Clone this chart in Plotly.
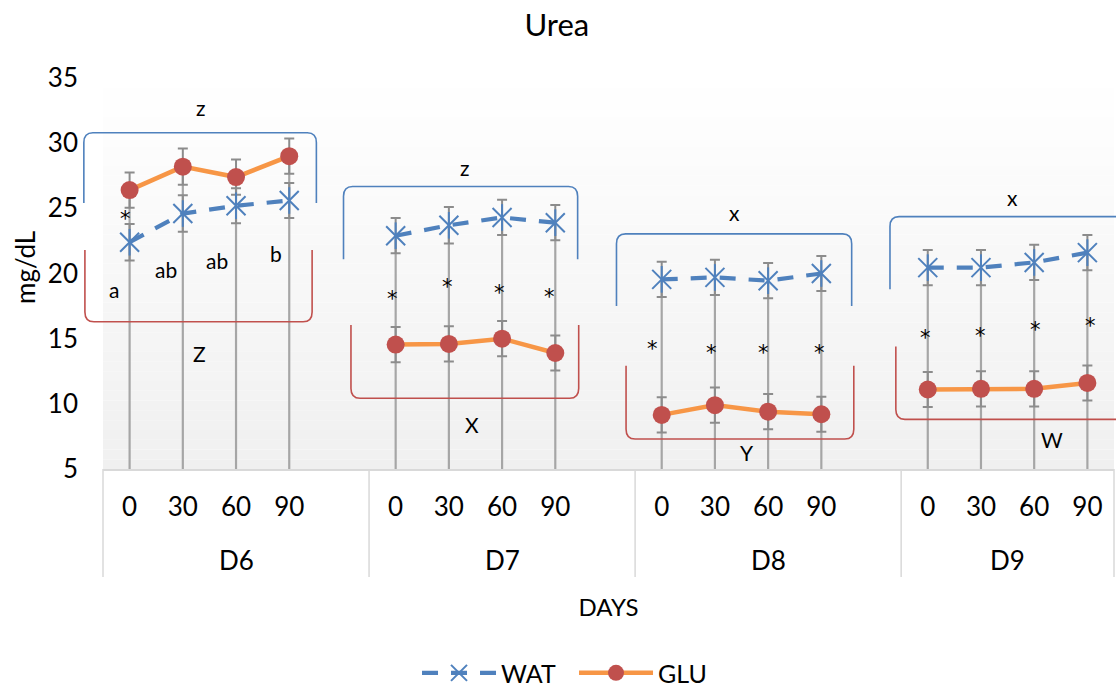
import plotly.graph_objects as go

# ---------------- data ----------------
days = ["D6", "D7", "D8", "D9"]
times = ["0", "30", "60", "90"]

wat = [22.4, 24.6, 25.2, 25.6,
       22.9, 23.7, 24.3, 23.9,
       19.55, 19.7, 19.45, 20.0,
       20.45, 20.45, 20.85, 21.6]
glu = [26.4, 28.2, 27.4, 29.0,
       14.55, 14.6, 15.0, 13.9,
       9.15, 9.9, 9.4, 9.2,
       11.1, 11.15, 11.15, 11.6]
wat_err = [1.4, 1.4, 1.35, 1.35,
           1.35, 1.4, 1.35, 1.35,
           1.35, 1.35, 1.35, 1.35,
           1.35, 1.35, 1.35, 1.35]
glu_err = [1.35, 1.4, 1.35, 1.35,
           1.35, 1.35, 1.35, 1.35,
           1.35, 1.35, 1.35, 1.35,
           1.35, 1.35, 1.35, 1.35]

# significance letters (labels only)
wat_letters = ["z", "z", "x", "x"]
glu_letters = ["Z", "X", "Y", "W"]
d6_letters = ["a", "ab", "ab", "b"]

# ---------------- layout constants ----------------
SLOTS_PER_DAY = 5
XMIN, XMAX = -0.5, 18.5
YMIN, YMAX = 5, 35
FONT = "Lato"
BLUE = "#4f81bd"
ORANGE = "#f79646"
RED = "#c0504d"

xs = [SLOTS_PER_DAY * g + t for g in range(len(days)) for t in range(len(times))]
ticktext = [times[t] for g in range(len(days)) for t in range(len(times))]


def xp(x):
    return (x - XMIN) / (XMAX - XMIN)


def yp(y):
    return (y - YMIN) / (YMAX - YMIN)


fig = go.Figure()

# drop lines (from highest point to axis)
dl_x, dl_y = [], []
for x, a, b in zip(xs, wat, glu):
    dl_x += [x, x, None]
    dl_y += [max(a, b), YMIN, None]
fig.add_trace(go.Scatter(x=dl_x, y=dl_y, mode="lines", showlegend=False,
                         line=dict(color="#a6a6a6", width=2.2), hoverinfo="skip"))

# error bars (under markers)
for vals, errs in ((wat, wat_err), (glu, glu_err)):
    fig.add_trace(go.Scatter(
        x=xs, y=vals, mode="markers", showlegend=False, hoverinfo="skip",
        marker=dict(size=1, color="rgba(0,0,0,0)"),
        error_y=dict(type="data", array=errs, color="#8c8c8c", thickness=2, width=5)))

# series
for g in range(len(days)):
    seg = slice(4 * g, 4 * g + 4)
    fig.add_trace(go.Scatter(
        x=xs[seg], y=wat[seg], mode="lines+markers", name="WAT",
        legendgroup="WAT", showlegend=(g == 0),
        line=dict(color=BLUE, width=4.2, dash="16px,13px"),
        marker=dict(symbol="x-thin-open", size=19, color=BLUE,
                    line=dict(color=BLUE, width=2))))
    fig.add_trace(go.Scatter(
        x=xs[seg], y=wat[seg], mode="markers", showlegend=False,
        legendgroup="WAT", hoverinfo="skip",
        marker=dict(symbol="line-ns-open", size=19, color=BLUE,
                    line=dict(color=BLUE, width=2))))
for g in range(len(days)):
    seg = slice(4 * g, 4 * g + 4)
    fig.add_trace(go.Scatter(
        x=xs[seg], y=glu[seg], mode="lines+markers", name="GLU",
        legendgroup="GLU", showlegend=(g == 0),
        line=dict(color=ORANGE, width=4.5),
        marker=dict(symbol="circle", size=18, color=RED,
                    line=dict(color=RED, width=0))))

shapes = []
# background gradient
N = 40
for k in range(N):
    c = int(round(255 - 15 * (N - k - 0.5) / N))
    shapes.append(dict(type="rect", xref="paper", yref="paper",
                       x0=0, x1=1, y0=k / N, y1=(k + 1) / N, layer="below",
                       line=dict(width=0), fillcolor=f"rgb({c},{c},{c})"))

# category table lines
for xb in [-0.5, 4.5, 9.5, 14.5, 18.5]:
    shapes.append(dict(type="line", xref="paper", yref="paper",
                       x0=xp(xb), x1=xp(xb), y0=0, y1=-0.276,
                       line=dict(color="#d9d9d9", width=1.5)))


def bracket(x0, x1, y_edge, y_end, color, open_right=False):
    rx = 0.17
    ry = 0.75 if y_end < y_edge else -0.75
    X0, X1 = xp(x0), xp(x1)
    dx = xp(x0 + rx) - X0
    E, Y = yp(y_edge), yp(y_end)
    dy = yp(y_edge) - yp(y_edge - ry)
    p = f"M {X0},{Y} L {X0},{E - dy} Q {X0},{E} {X0 + dx},{E}"
    if open_right:
        p += f" L {X1},{E}"
    else:
        p += f" L {X1 - dx},{E} Q {X1},{E} {X1},{E - dy} L {X1},{Y}"
    return dict(type="path", xref="paper", yref="paper", path=p,
                line=dict(color=color, width=1.6))


# (x0, x1, edge, end) for each day
blue_br = [(-0.86, 3.51, 30.8, 25.4), (4.02, 8.42, 26.67, 21.1),
           (9.15, 13.57, 23.04, 17.5), (14.29, 18.6, 24.36, 18.8)]
red_br = [(-0.84, 3.43, 16.3, 21.8), (4.16, 8.44, 10.43, 16.05),
          (9.33, 13.61, 7.3, 12.93), (14.4, 18.6, 8.81, 14.39)]
for g in range(4):
    shapes.append(bracket(*blue_br[g], BLUE, open_right=(g == 3)))
    shapes.append(bracket(*red_br[g], RED, open_right=(g == 3)))

annotations = []
# day labels
for g, d in enumerate(days):
    xc = (SLOTS_PER_DAY * g - 0.5 + min(SLOTS_PER_DAY * g + 4.5, XMAX)) / 2
    annotations.append(dict(x=xp(xc), y=-0.233, xref="paper", yref="paper",
                            xanchor="center", yanchor="middle",
                            text=d, showarrow=False,
                            font=dict(family=FONT, size=26, color="black")))

# y axis title
annotations.append(dict(x=-0.0772, y=0.5166, xref="paper", yref="paper",
                        xanchor="center", yanchor="middle", textangle=-90,
                        text="mg/dL", showarrow=False,
                        font=dict(family=FONT, size=26, color="black")))

wat_lab_pos = [(1.34, 32.75), (6.31, 28.1), (11.37, 24.7), (16.6, 25.85)]
glu_lab_pos = [(1.31, 13.9), (6.44, 8.45), (11.6, 6.3), (17.33, 7.28)]
for t, (x, y) in zip(wat_letters, wat_lab_pos):
    annotations.append(dict(x=x, y=y, text=t, showarrow=False,
                            font=dict(family=FONT, size=21, color="black")))
for t, (x, y) in zip(glu_letters, glu_lab_pos):
    annotations.append(dict(x=x, y=y, text=t, showarrow=False,
                            font=dict(family=FONT, size=21, color="black")))
d6_pos = [(-0.29, 18.74), (0.68, 20.3), (1.64, 21.0), (2.75, 21.55)]
for t, (x, y) in zip(d6_letters, d6_pos):
    annotations.append(dict(x=x, y=y, text=t, showarrow=False,
                            font=dict(family=FONT, size=21, color="black")))

star_pos = [(-0.07, 24.62),
            (4.94, 18.48), (5.98, 19.37), (6.95, 18.94), (7.89, 18.61),
            (9.82, 14.59), (10.93, 14.31), (11.92, 14.31), (12.96, 14.31),
            (14.96, 15.46), (15.99, 15.61), (17.03, 16.05), (18.05, 16.38)]
for x, y in star_pos:
    annotations.append(dict(x=x, y=y - 0.4, text="*", showarrow=False,
                            font=dict(family="DejaVu Sans", size=21, color="black")))

fig.update_layout(
    width=1116, height=688,
    margin=dict(l=103, r=2, t=78, b=219, autoexpand=False),
    paper_bgcolor="white", plot_bgcolor="white",
    font=dict(family=FONT, size=26, color="black"),
    title=dict(text="Urea", x=0.499, xref="container", xanchor="center",
               y=0.964, yref="container", yanchor="middle",
               font=dict(family=FONT, size=31, color="black")),
    xaxis=dict(range=[XMIN, XMAX], tickvals=xs, ticktext=ticktext,
               showgrid=False, zeroline=False, ticks="", automargin=False,
               showline=True, linecolor="#d9d9d9", linewidth=1.5,
               tickfont=dict(family=FONT, size=26, color="black"),
               ticklabelstandoff=14,
               title=dict(text="DAYS", standoff=78,
                          font=dict(family=FONT, size=24, color="black"))),
    yaxis=dict(range=[YMIN, YMAX], dtick=5, showgrid=False, zeroline=False,
               ticks="", showline=False, automargin=False,
               tickfont=dict(family=FONT, size=26, color="black"),
               ticklabelstandoff=24),
    legend=dict(orientation="h", x=0.3106, xanchor="left", y=-0.522,
                yanchor="middle", font=dict(family=FONT, size=25, color="black"),
                itemwidth=74, entrywidth=68, entrywidthmode="pixels",
                bgcolor="rgba(0,0,0,0)"),
    shapes=shapes, annotations=annotations,
)

fig.write_html("out.html",
               config={"displayModeBar": False},
               post_script="document.body.style.margin='0px';"
                           "document.body.style.overflow='hidden';")
